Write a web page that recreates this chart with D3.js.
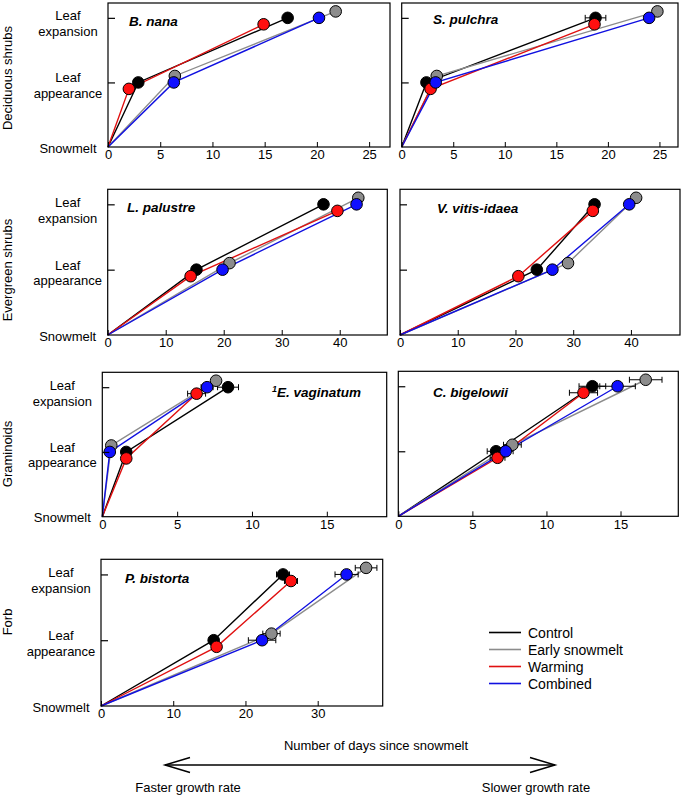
<!DOCTYPE html>
<html>
<head>
<meta charset="utf-8">
<script src="https://cdn.jsdelivr.net/npm/d3@7"></script>
<style>
  body { margin: 0; background: #fff; }
  svg { display: block; font-family: "Liberation Sans", Arial, Helvetica, sans-serif; }
</style>
</head>
<body>
<svg id="chart" width="685" height="795"></svg>
<script>
// ---------------- DATA ----------------
const treatments = ["Control", "Early snowmelt", "Warming", "Combined"];
const stageLabels = [["Snowmelt"], ["Leaf", "appearance"], ["Leaf", "expansion"]];
const stageShift = [0, 0.1, -0.1, 0];   // small vertical offsets of treatments in original figure
const groups = ["Deciduous shrubs", "Evergreen shrubs", "Graminoids", "Forb"];
const species = ["B. nana", "S. pulchra", "L. palustre", "V. vitis-idaea", "E. vaginatum", "C. bigelowii", "P. bistorta"];
const speciesNote = ["", "", "", "", "1", "", ""];
// days since snowmelt, per species, per treatment (Control, Early snowmelt, Warming, Combined)
const appearanceDays = [
  [2.9, 6.4, 2.0, 6.3],
  [2.4, 3.4, 2.8, 3.3],
  [15.3, 21.0, 14.3, 19.8],
  [23.7, 29.1, 20.5, 26.4],
  [1.6, 0.6, 1.6, 0.5],
  [6.6, 7.7, 6.7, 7.25],
  [15.6, 23.6, 16.0, 22.3]
];
const expansionDays = [
  [17.2, 21.8, 14.9, 20.2],
  [18.8, 24.8, 18.7, 24.0],
  [37.2, 43.2, 39.6, 42.9],
  [33.7, 40.9, 33.4, 39.7],
  [8.4, 7.6, 6.3, 7.0],
  [13.1, 16.7, 12.5, 14.8],
  [25.2, 36.7, 26.3, 34.0]
];
const appearanceSE = [
  [0, 0, 0, 0],
  [0, 0, 0, 0],
  [0, 0, 0, 0],
  [0, 0, 0, 0],
  [0, 0, 0, 0],
  [0.6, 0.6, 0.5, 0.5],
  [0.5, 1.2, 0.5, 1.9]
];
const expansionSE = [
  [0, 0, 0, 0],
  [1.0, 0, 0, 0],
  [0, 0, 0, 0],
  [0, 0, 0, 0],
  [0.7, 0.3, 0.6, 0.4],
  [0.9, 1.1, 0.95, 1.2],
  [0.9, 1.5, 0.9, 1.6]
];
const xTickValues = [
  [0, 5, 10, 15, 20, 25],
  [0, 5, 10, 15, 20, 25],
  [0, 10, 20, 30, 40],
  [0, 10, 20, 30, 40],
  [0, 5, 10, 15],
  [0, 5, 10, 15],
  [0, 10, 20, 30]
];
const xMax = [27, 26.8, 48.2, 48.5, 19, 18.9, 39];
const xAxisTitle = "Number of days since snowmelt";
const arrowLeftText = "Faster growth rate";
const arrowRightText = "Slower growth rate";

// ---------------- LAYOUT / STYLE ----------------
const colors = ["#000000", "#8c8c8c", "#ff1010", "#1010ff"];
const lineColors = ["#000000", "#8c8c8c", "#e01010", "#1010e0"];
const panelBoxes = [
  {l: 108, r: 390, t: 3, b: 147, labelLeft: true},
  {l: 401.7, r: 678, t: 3, b: 147, labelLeft: false},
  {l: 107.7, r: 387.3, t: 189.3, b: 335, labelLeft: true},
  {l: 400, r: 680, t: 189.3, b: 335, labelLeft: false},
  {l: 102.3, r: 386.7, t: 372.3, b: 516.7, labelLeft: true},
  {l: 398.3, r: 678.3, t: 371.3, b: 516.3, labelLeft: false},
  {l: 101, r: 382.7, t: 559.3, b: 706, labelLeft: true}
];
const titlePos = [
  {x: 129, y: 25.5, anchor: "start"},
  {x: 433, y: 24, anchor: "start"},
  {x: 127, y: 211.5, anchor: "start"},
  {x: 437, y: 213, anchor: "start"},
  {x: 361, y: 396.5, anchor: "end"},
  {x: 433, y: 396.5, anchor: "start"},
  {x: 125, y: 583, anchor: "start"}
];
const groupPos = [{x: 7, y: 78}, {x: 7, y: 270}, {x: 7, y: 454}, {x: 7, y: 622}];

const svg = d3.select("#chart");
const R = 5.8;

species.forEach((sp, i) => {
  const box = panelBoxes[i];
  const x = d3.scaleLinear().domain([0, xMax[i]]).range([box.l, box.r]);
  const y = d3.scaleLinear().domain([0, 2.23]).range([box.b, box.t]);
  const g = svg.append("g");

  // series lines
  treatments.forEach((tr, k) => {
    const pts = [
      [0, 0],
      [appearanceDays[i][k], 1 + stageShift[k]],
      [expansionDays[i][k], 2 + stageShift[k]]
    ];
    g.append("path")
      .attr("d", d3.line().x(d => x(d[0])).y(d => y(d[1]))(pts))
      .attr("fill", "none")
      .attr("stroke", lineColors[k])
      .attr("stroke-width", 1.4);
  });

  // error bars
  treatments.forEach((tr, k) => {
    const items = [
      [appearanceDays[i][k], 1 + stageShift[k], appearanceSE[i][k]],
      [expansionDays[i][k], 2 + stageShift[k], expansionSE[i][k]]
    ].filter(d => d[2] > 0);
    items.forEach(d => {
      const yy = y(d[1]);
      const x0 = x(d[0] - d[2]), x1 = x(d[0] + d[2]);
      g.append("line").attr("x1", x0).attr("x2", x1).attr("y1", yy).attr("y2", yy)
        .attr("stroke", "#000").attr("stroke-width", 1);
      [x0, x1].forEach(xx => g.append("line").attr("x1", xx).attr("x2", xx)
        .attr("y1", yy - 3).attr("y2", yy + 3).attr("stroke", "#000").attr("stroke-width", 1));
    });
  });

  // points
  treatments.forEach((tr, k) => {
    const pts = [
      [appearanceDays[i][k], 1 + stageShift[k]],
      [expansionDays[i][k], 2 + stageShift[k]]
    ];
    g.selectAll(null).data(pts).enter().append("circle")
      .attr("cx", d => x(d[0])).attr("cy", d => y(d[1])).attr("r", R)
      .attr("fill", colors[k]).attr("stroke", "#000").attr("stroke-width", 1);
  });

  // box
  g.append("rect").attr("x", box.l).attr("y", box.t)
    .attr("width", box.r - box.l).attr("height", box.b - box.t)
    .attr("fill", "none").attr("stroke", "#000").attr("stroke-width", 1.2);

  // x axis
  const xa = g.append("g").attr("transform", `translate(0,${box.b})`)
    .call(d3.axisBottom(x).tickValues(xTickValues[i]).tickFormat(d3.format("d"))
      .tickSizeInner(-5).tickSizeOuter(0).tickPadding(3));
  xa.select(".domain").remove();
  xa.selectAll("line").attr("stroke", "#000").attr("stroke-width", 1);
  xa.selectAll("text").attr("font-size", 13).attr("fill", "#000")
    .style("font-family", "'Liberation Sans', Arial, sans-serif");

  // y ticks (inward)
  const ya = g.append("g").attr("transform", `translate(${box.l},0)`)
    .call(d3.axisLeft(y).tickValues([1, 2]).tickSizeInner(-7).tickSizeOuter(0).tickFormat(""));
  ya.select(".domain").remove();
  ya.selectAll("line").attr("stroke", "#000").attr("stroke-width", 1.2);

  // y labels
  if (box.labelLeft) {
    const cx = box.l - 40;
    stageLabels.forEach((lines, s) => {
      const yc = y(s);
      const offs = s === 0 ? [1] : (s === 1 ? [-4.5, 11] : [-2, 14]);
      lines.forEach((ln, j) => {
        g.append("text").attr("x", cx).attr("y", yc + offs[j])
          .attr("text-anchor", "middle").attr("dominant-baseline", "central")
          .attr("font-size", 13).text(ln);
      });
    });
  }

  // title
  const tp = titlePos[i];
  const t = g.append("text").attr("x", tp.x).attr("y", tp.y)
    .attr("text-anchor", tp.anchor).attr("font-size", 13.5)
    .attr("font-weight", "bold").attr("font-style", "italic");
  if (speciesNote[i]) {
    t.append("tspan").attr("font-size", 9).attr("dy", -5).text(speciesNote[i]);
    t.append("tspan").attr("dy", 5).text(sp);
  } else {
    t.text(sp);
  }
});

// group labels
groups.forEach((gr, i) => {
  svg.append("text")
    .attr("transform", `translate(${groupPos[i].x},${groupPos[i].y}) rotate(-90)`)
    .attr("text-anchor", "middle").attr("dominant-baseline", "central")
    .attr("font-size", 13).text(gr);
});

// legend
const leg = svg.append("g");
treatments.forEach((tr, k) => {
  const yy = 632.5 + k * 17;
  leg.append("line").attr("x1", 489).attr("x2", 521).attr("y1", yy).attr("y2", yy)
    .attr("stroke", lineColors[k]).attr("stroke-width", 1.6);
  leg.append("text").attr("x", 528).attr("y", yy).attr("dominant-baseline", "central")
    .attr("font-size", 14).text(tr);
});

// x-axis title and arrow
svg.append("text").attr("x", 376).attr("y", 745).attr("text-anchor", "middle")
  .attr("dominant-baseline", "central").attr("font-size", 13).text(xAxisTitle);
const ay = 765;
svg.append("line").attr("x1", 165).attr("x2", 555).attr("y1", ay).attr("y2", ay)
  .attr("stroke", "#000").attr("stroke-width", 1.5);
svg.append("path").attr("d", `M190,${ay - 7.5} L165,${ay} L190,${ay + 7.5}`)
  .attr("fill", "none").attr("stroke", "#000").attr("stroke-width", 1.5);
svg.append("path").attr("d", `M530,${ay - 7.5} L555,${ay} L530,${ay + 7.5}`)
  .attr("fill", "none").attr("stroke", "#000").attr("stroke-width", 1.5);
svg.append("text").attr("x", 188).attr("y", 787).attr("text-anchor", "middle")
  .attr("dominant-baseline", "central").attr("font-size", 13).text(arrowLeftText);
svg.append("text").attr("x", 536).attr("y", 787).attr("text-anchor", "middle")
  .attr("dominant-baseline", "central").attr("font-size", 13).text(arrowRightText);
</script>
</body>
</html>
